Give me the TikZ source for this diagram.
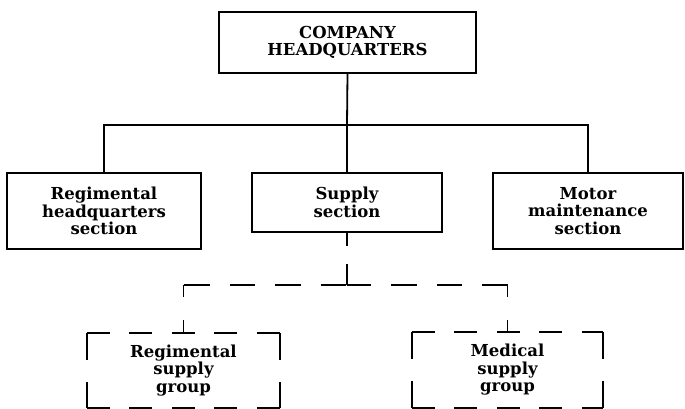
\documentclass[tikz,border=0pt]{standalone}
\usepackage{fontspec}
\setmainfont{DejaVu Serif}
\begin{document}
\begin{tikzpicture}[x=1pt,y=-1pt,
  box/.style={draw,line width=2.1pt,align=center,inner sep=0pt,
    font=\fontsize{16.5}{17.5}\selectfont\bfseries},
  dbox/.style={draw=none,align=center,inner sep=0pt,
    font=\fontsize{16.5}{17.5}\selectfont\bfseries},
  conn/.style={line width=1.8pt},
  dconn/.style={line width=1.8pt}]
\useasboundingbox (0,0) rectangle (685,409);
\node[box,minimum width=257pt,minimum height=61pt] (hq) at (347.5,42.5) {COMPANY\\HEADQUARTERS};
\node[box,minimum width=194pt,minimum height=76pt] (rhq) at (104,211) {Regimental\\headquarters\\section};
\node[box,minimum width=190pt,minimum height=59pt] (sup) at (347,202.5) {Supply\\section};
\node[box,minimum width=190pt,minimum height=76pt] (mot) at (588,211) {Motor\\maintenance\\section};
\node[dbox,minimum width=193pt,minimum height=75pt] (rsg) at (183.5,370.5) {Regimental\\supply\\group};
\node[dbox,minimum width=191pt,minimum height=76pt] (msg) at (507.5,370) {Medical\\supply\\group};
% solid connectors
\coordinate (bus) at (347,125);
\draw[conn] (hq.south) -- (bus);
\draw[conn] (rhq.north) |- (bus) -| (mot.north);
\draw[conn] (bus) -- (sup.north);
% dashed connectors
\coordinate (dbus) at (347,285);
\draw[dconn,dash pattern=on 13pt off 18pt on 30pt off 0pt] (sup.south) -- (dbus);
\draw[dconn,dash pattern=on 26pt off 20pt on 25pt off 20pt] (rsg.north |- dbus) -- (dbus);
\draw[dconn,dash pattern=on 26pt off 20pt on 25pt off 20pt] (msg.north |- dbus) -- (dbus);
\draw[dconn,dash pattern=on 12pt off 23pt on 13pt off 0pt] (rsg.north |- dbus) -- (rsg.north);
\draw[dconn,dash pattern=on 12pt off 23pt on 13pt off 0pt] (msg.north |- dbus) -- (msg.north);
% dashed boxes drawn side by side
\foreach \b in {rsg,msg}{
  \draw[line width=2.1pt,dash pattern=on 23pt off 19.5pt] (\b.north west) -- (\b.north east);
  \draw[line width=2.1pt,dash pattern=on 23pt off 19.5pt] (\b.south west) -- (\b.south east);
  \draw[line width=2.1pt,dash pattern=on 27pt off 22pt] (\b.north west) -- (\b.south west);
  \draw[line width=2.1pt,dash pattern=on 27pt off 22pt] (\b.north east) -- (\b.south east);
}
\end{tikzpicture}
\end{document}
